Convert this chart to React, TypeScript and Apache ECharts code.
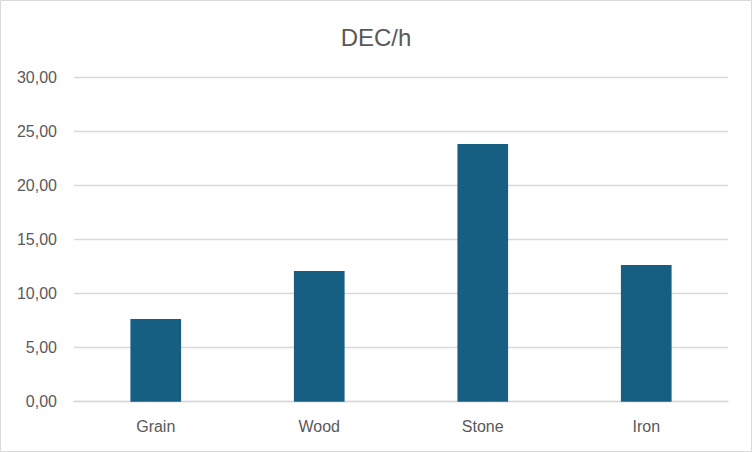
import React, { useEffect, useRef } from 'react';
import * as echarts from 'echarts';

const categories = ['Grain', 'Wood', 'Stone', 'Iron'];
const decPerHour = [7.65, 12.1, 23.85, 12.65];

const TEXT_COLOR = '#595959';
const GRID_COLOR = '#d9d9d9';
const BAR_COLOR = '#175f82';
const FONT = '"Liberation Sans", Arial, sans-serif';

const App = (): JSX.Element => {
  const divEL = useRef<HTMLDivElement>(null);

  useEffect(() => {
    document.body.style.margin = '0';
    const instance = echarts.init(divEL.current as any, null, { renderer: 'svg' });

    const option: echarts.EChartsOption = {
      animation: false,
      backgroundColor: '#ffffff',
      textStyle: { fontFamily: FONT },
      title: {
        text: 'DEC/h',
        left: 'center',
        top: 20,
        textStyle: {
          color: TEXT_COLOR,
          fontSize: 24,
          fontWeight: 'normal',
          fontFamily: FONT,
        },
      },
      graphic: [
        {
          type: 'rect',
          shape: { x: 0.5, y: 0.5, width: 751, height: 451 },
          style: { fill: 'none', stroke: GRID_COLOR, lineWidth: 1 },
          silent: true,
        },
      ],
      grid: {
        left: 74,
        right: 24,
        top: 77.7,
        bottom: 50.3,
      },
      xAxis: {
        type: 'category',
        data: categories,
        axisLine: { lineStyle: { color: GRID_COLOR, width: 1.3 } },
        axisTick: { show: false },
        axisLabel: {
          color: TEXT_COLOR,
          fontSize: 16,
          margin: 17,
          fontFamily: FONT,
        },
      },
      yAxis: {
        type: 'value',
        min: 0,
        max: 30,
        interval: 5,
        axisLine: { show: false },
        axisTick: { show: false },
        axisLabel: {
          color: TEXT_COLOR,
          fontSize: 16,
          margin: 17,
          fontFamily: FONT,
          formatter: (v: number) => v.toFixed(2).replace('.', ','),
        },
        splitLine: { lineStyle: { color: GRID_COLOR, width: 1.3 } },
      },
      series: [
        {
          name: 'DEC/h',
          type: 'bar',
          data: decPerHour,
          barWidth: '31%',
          itemStyle: { color: BAR_COLOR },
        },
      ],
    };

    instance.setOption(option);

    return () => {
      instance.dispose();
    };
  }, []);

  return <div ref={divEL} style={{ width: 752, height: 452 }}></div>;
};

export default App;
